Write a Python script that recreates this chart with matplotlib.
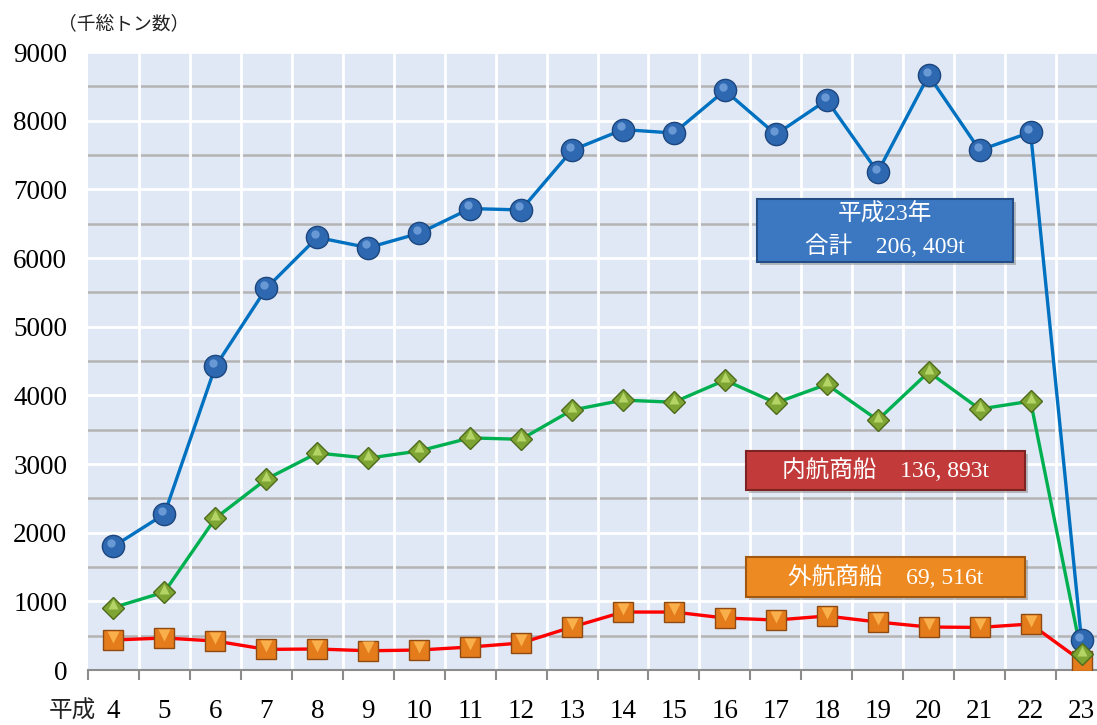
import matplotlib.pyplot as plt
import matplotlib.transforms as mtransforms
from matplotlib.patches import FancyBboxPatch
import numpy as np

plt.rcParams['font.family'] = ['Liberation Serif', 'Noto Sans CJK JP', 'DejaVu Sans']

# data (thousand gross tons), Heisei 4 - 23
years = ['4', '5', '6', '7', '8', '9', '10', '11', '12', '13', '14', '15',
         '16', '17', '18', '19', '20', '21', '22', '23']
total = [1800, 2270, 4420, 5560, 6300, 6150, 6360, 6720, 6700, 7570, 7870, 7820,
         8440, 7800, 8300, 7250, 8660, 7570, 7830, 430]
domestic = [910, 1135, 2210, 2780, 3160, 3085, 3190, 3380, 3360, 3785, 3930, 3900,
            4220, 3890, 4160, 3640, 4340, 3800, 3915, 230]
foreign = [437, 466, 422, 300, 306, 280, 291, 335, 393, 626, 844, 844,
           757, 728, 786, 699, 626, 620, 670, 130]

W, H = 1097, 725
fig = plt.figure(figsize=(W / 100, H / 100), dpi=100)
ax = fig.add_axes([88 / W, 1 - 670 / H, 1019 / W, 618 / H])
ax.set_facecolor('#DFE8F4')

x = np.arange(len(years))
ax.set_xlim(-0.5, len(years) - 0.5)
ax.set_ylim(0, 9000)

# grid: white every 1000, gray at the 500s, white verticals at category edges
for v in range(1000, 9001, 1000):
    ax.axhline(v, color='white', lw=2, zorder=1)
for v in range(500, 9000, 1000):
    ax.axhline(v, color='#B4B4B4', lw=1.8, zorder=1)
for b in np.arange(0.5, len(years) - 0.5, 1):
    ax.axvline(b, color='white', lw=2, zorder=1)

for s in ['top', 'right', 'left']:
    ax.spines[s].set_visible(False)
ax.spines['bottom'].set_color('#8C8C8C')
ax.spines['bottom'].set_linewidth(1.5)
ax.spines['bottom'].set_zorder(2)

ax.set_yticks(range(0, 9001, 1000))
ax.tick_params(axis='y', length=0, pad=15, labelsize=19.5)
ax.set_xticks(x)
ax.set_xticklabels(years)
ax.tick_params(axis='x', which='major', length=0, pad=21, labelsize=19.5)
ax.set_xticks(np.arange(-0.5, len(years), 1), minor=True)
ax.tick_params(axis='x', which='minor', length=7, width=1.5, color='#8C8C8C')

lift = mtransforms.offset_copy(ax.transData, fig=fig, x=-1.5, y=2.5, units='points')
up = mtransforms.offset_copy(ax.transData, fig=fig, x=0, y=2.5, units='points')

# foreign (orange squares, red line)
ax.plot(x, foreign, color='#FF0000', lw=2.4, zorder=3)
ax.plot(x, foreign, ls='none', marker='s', ms=15, mfc='#E47C1C', mec='#8E4A12', mew=1, zorder=4)
ax.plot(x, foreign, ls='none', marker='v', ms=8, mfc='#F9B04A', mec='none', zorder=5, transform=up)

# total (blue spheres)
ax.plot(x, total, color='#0070C0', lw=2.4, zorder=3)
ax.plot(x, total, ls='none', marker='o', ms=16, mfc='#2D68B0', mec='#1C467E', mew=1, zorder=6)
ax.plot(x, total, ls='none', marker='o', ms=6, mfc='#6F9FDA', mec='none', alpha=0.9, zorder=7, transform=lift)

# domestic (green diamonds)
ax.plot(x, domestic, color='#00B050', lw=2.4, zorder=3)
ax.plot(x, domestic, ls='none', marker='D', ms=11, mfc='#7EA534', mec='#4E6B1C', mew=1, zorder=8)
ax.plot(x, domestic, ls='none', marker='^', ms=7, mfc='#B4D466', mec='none', zorder=9, transform=up)

fig.text(58 / W, 1 - 25 / H, '（千総トン数）', fontsize=13.5, va='center', ha='left', color='#222222')
fig.text(72 / W, 1 - 712 / H, '平成', fontsize=17, va='center', ha='center', color='#222222')


def label_box(x0, y0, x1, y1, face, edge, lines):
    # shadow then box, pixel coords measured from top-left
    sh = FancyBboxPatch((x0 / W + 3 / W, 1 - y1 / H - 3 / H), (x1 - x0) / W, (y1 - y0) / H,
                        boxstyle='square,pad=0', transform=fig.transFigure,
                        fc='#888888', ec='none', alpha=0.5, zorder=10)
    fig.add_artist(sh)
    box = FancyBboxPatch((x0 / W, 1 - y1 / H), (x1 - x0) / W, (y1 - y0) / H,
                         boxstyle='square,pad=0', transform=fig.transFigure,
                         fc=face, ec=edge, lw=1.5, zorder=11)
    fig.add_artist(box)
    n = len(lines)
    step = (y1 - y0) / n
    for i, t in enumerate(lines):
        yc = y0 + step * (i + 0.5)
        fig.text((x0 + x1) / 2 / W, 1 - yc / H, t, color='white', fontsize=17,
                 ha='center', va='center', zorder=12)


label_box(757, 199, 1013, 262, '#3C78C2', '#244C85', ['平成23年', '合計　206, 409t'])
label_box(746, 451, 1025, 490, '#C23A3A', '#7E2323', ['内航商船　136, 893t'])
label_box(746, 557, 1025, 597, '#EE8A22', '#A3580F', ['外航商船　69, 516t'])

fig.savefig('out.png', dpi=100)
